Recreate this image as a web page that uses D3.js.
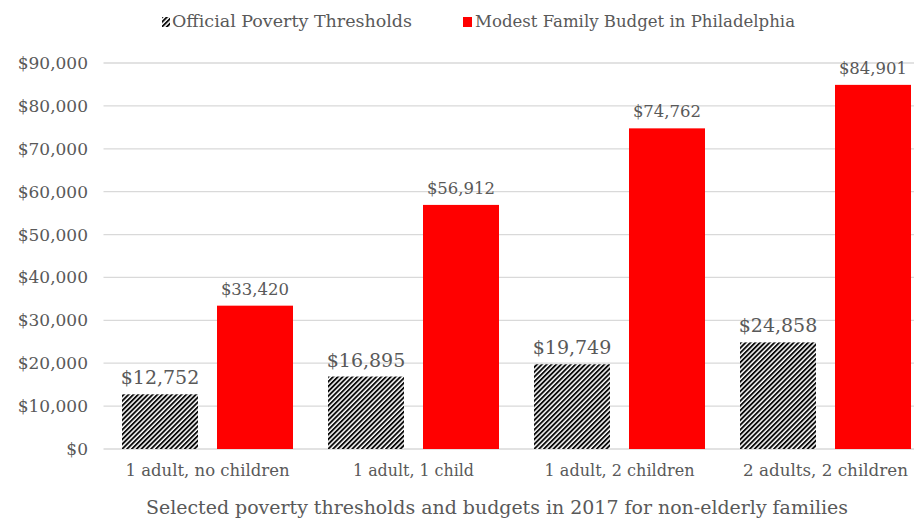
<!DOCTYPE html>
<html>
<head>
<meta charset="utf-8">
<script src="https://cdn.jsdelivr.net/npm/d3@7"></script>
<style>
  html, body { margin: 0; padding: 0; background: #fff; }
  svg { display: block; }
  text { font-family: "DejaVu Serif", Georgia, serif; fill: #595959; }
</style>
</head>
<body>
<svg id="chart" width="914" height="522"></svg>
<script>
// Family types on the x axis
const categories = ["1 adult, no children", "1 adult, 1 child", "1 adult, 2 children", "2 adults, 2 children"];
// Series names
const seriesNames = ["Official Poverty Thresholds", "Modest Family Budget in Philadelphia"];
// Annual amounts in dollars
const povertyThresholds = [12752, 16895, 19749, 24858];
const familyBudgets = [33420, 56912, 74762, 84901];
// Y axis ticks
const yTicks = [0, 10000, 20000, 30000, 40000, 50000, 60000, 70000, 80000, 90000];
const axisTitle = "Selected poverty thresholds and budgets in 2017 for non-elderly families";

const svg = d3.select("#chart");
const W = 914, H = 522;
const plot = { left: 103.5, right: 927.5, top: 63, bottom: 449 };

const fmt = v => "$" + d3.format(",")(v);

// diagonal hatch fill for the threshold series
const defs = svg.append("defs");
const hatch = defs.append("pattern")
  .attr("id", "hatch")
  .attr("patternUnits", "userSpaceOnUse")
  .attr("width", 3.4).attr("height", 3.4)
  .attr("patternTransform", "rotate(45)");
hatch.append("rect").attr("width", 3.4).attr("height", 3.4).attr("fill", "#fff");
hatch.append("rect").attr("width", 1.9).attr("height", 3.4).attr("fill", "#0a0a0a");

const x0 = d3.scaleBand().domain(categories).range([plot.left, plot.right]).paddingInner(0).paddingOuter(0);
const x1 = d3.scaleBand().domain([0, 1]).range([18.5, x0.bandwidth() - 16.5]).paddingInner(0.2);
const y = d3.scaleLinear().domain([0, 90000]).range([plot.bottom, plot.top]);

// gridlines
svg.append("g").selectAll("line").data(yTicks).join("line")
  .attr("x1", plot.left).attr("x2", W)
  .attr("y1", d => y(d)).attr("y2", d => y(d))
  .attr("stroke", "#d9d9d9").attr("stroke-width", 1.3);

// y tick labels
svg.append("g").selectAll("text").data(yTicks).join("text")
  .attr("x", 88).attr("y", d => y(d))
  .attr("dy", "0.35em")
  .attr("text-anchor", "end")
  .attr("font-size", 17)
  .text(d => fmt(d));

const rows = categories.map((c, i) => ({ cat: c, vals: [povertyThresholds[i], familyBudgets[i]] }));

const groups = svg.append("g").selectAll("g").data(rows).join("g")
  .attr("transform", d => `translate(${x0(d.cat)},0)`);

groups.selectAll("rect").data(d => d.vals.map((v, k) => ({ v, k }))).join("rect")
  .attr("x", d => x1(d.k))
  .attr("width", x1.bandwidth())
  .attr("y", d => y(d.v))
  .attr("height", d => y(0) - y(d.v))
  .attr("fill", d => d.k === 0 ? "url(#hatch)" : "#ff0000");

// value labels above bars
groups.selectAll("text.val").data(d => d.vals.map((v, k) => ({ v, k }))).join("text")
  .attr("class", "val")
  .attr("x", d => x1(d.k) + x1.bandwidth() / 2)
  .attr("y", d => y(d.v) - (d.k === 0 ? 10 : 11))
  .attr("text-anchor", "middle")
  .attr("font-size", d => d.k === 0 ? 19 : 16.5)
  .text(d => fmt(d.v));

// category labels
svg.append("g").selectAll("text").data(categories).join("text")
  .attr("x", d => x0(d) + 18.5 + (x0.bandwidth() - 35) / 2)
  .attr("y", 476)
  .attr("text-anchor", "middle")
  .attr("font-size", 16)
  .attr("textLength", (d, i) => [164, 121, 150, 165][i])
  .attr("lengthAdjust", "spacingAndGlyphs")
  .text(d => d);

// axis title
svg.append("text")
  .attr("x", 497).attr("y", 514)
  .attr("text-anchor", "middle")
  .attr("font-size", 18)
  .attr("textLength", 702)
  .attr("lengthAdjust", "spacingAndGlyphs")
  .text(axisTitle);

// legend
const legend = svg.append("g");
legend.append("rect").attr("x", 162).attr("y", 17).attr("width", 8).attr("height", 10)
  .attr("fill", "url(#hatch)");
legend.append("text").attr("x", 172).attr("y", 27).attr("font-size", 16)
  .attr("textLength", 240).attr("lengthAdjust", "spacingAndGlyphs")
  .text(seriesNames[0]);
legend.append("rect").attr("x", 463).attr("y", 17).attr("width", 9).attr("height", 10)
  .attr("fill", "#ff0000");
legend.append("text").attr("x", 475).attr("y", 27).attr("font-size", 16)
  .attr("textLength", 320).attr("lengthAdjust", "spacingAndGlyphs")
  .text(seriesNames[1]);
</script>
</body>
</html>
